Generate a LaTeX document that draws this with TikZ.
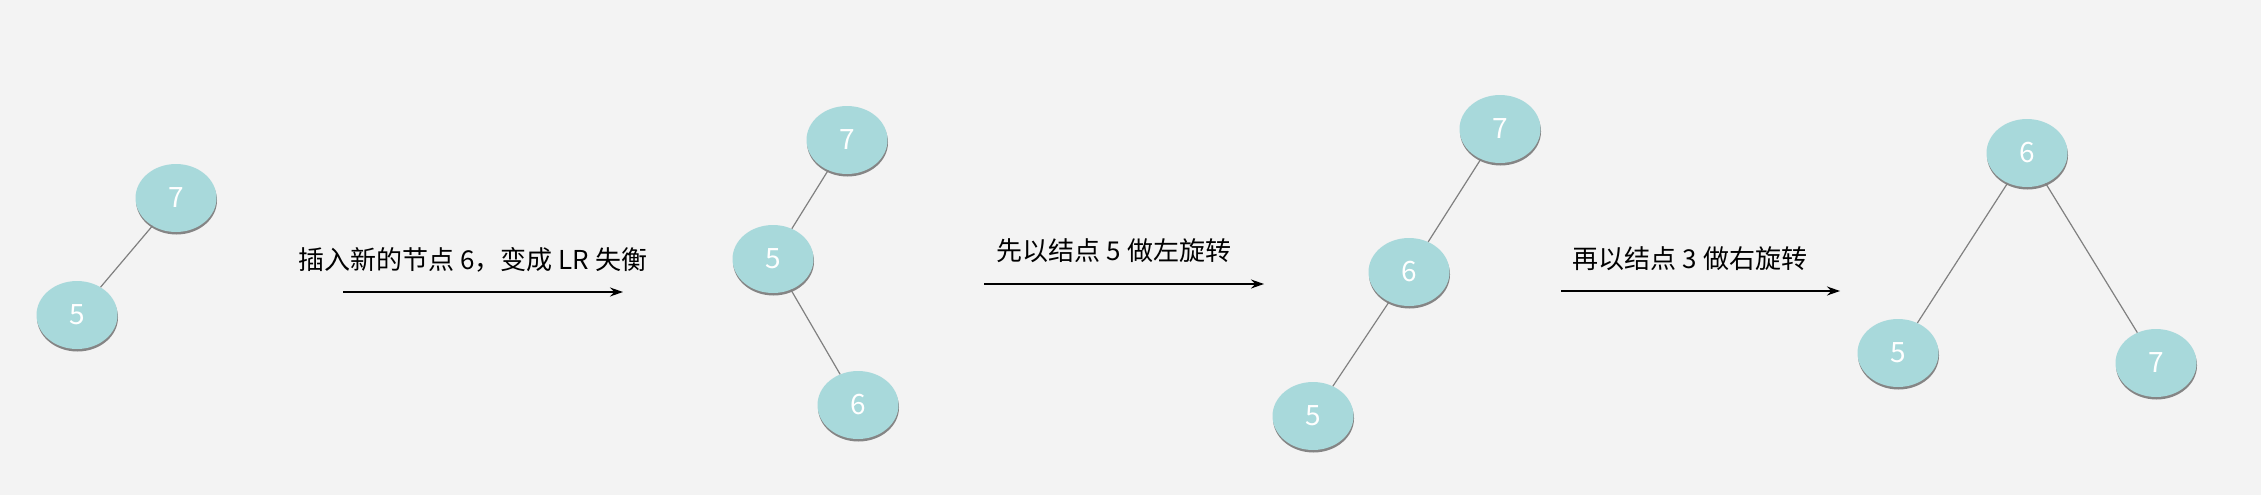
\documentclass[tikz,border=0pt]{standalone}
\usepackage{fontspec}
\setmainfont{Noto Sans CJK SC}
\usepackage{tikz}
\usetikzlibrary{shapes.geometric,shadows,arrows.meta}
\definecolor{bgcol}{HTML}{F3F3F3}
\definecolor{nodecol}{HTML}{A8D9DB}
\tikzset{
	avl/.style={ellipse, fill=nodecol, minimum width=81pt, minimum height=68pt, inner sep=0pt,
		text=white, font=\fontsize{28}{32}\selectfont,
		drop shadow={shadow xshift=0.5pt, shadow yshift=-2.5pt, fill=black, opacity=0.45}},
	link/.style={draw=black!50, line width=1.2pt},
	caption/.style={font=\fontsize{26}{30}\selectfont, text=black},
	turn/.style={line width=1.4pt, -{Stealth[length=13pt,width=9pt]}}
}
\begin{document}
\begin{tikzpicture}[x=1pt, y=-1pt]
			\fill[bgcol] (0,0) rectangle (2261,495);
			% Nodes
			\node[avl] (a7) at (176,198) {7};
			\node[avl] (a5) at (77,315) {5};
			\node[avl] (b7) at (847,140) {7};
			\node[avl] (b5) at (773,259) {5};
			\node[avl] (b6) at (858,405) {6};
			\node[avl] (c7) at (1500,129) {7};
			\node[avl] (c6) at (1409,272) {6};
			\node[avl] (c5) at (1313,416) {5};
			\node[avl] (d6) at (2027,153) {6};
			\node[avl] (d5) at (1898,353) {5};
			\node[avl] (d7) at (2156,363) {7};
			% Edges
			\draw[link] (a7) -- (a5);
			\draw[link] (b7) -- (b5);
			\draw[link] (b5) -- (b6);
			\draw[link] (c7) -- (c6);
			\draw[link] (c6) -- (c5);
			\draw[link] (d6) -- (d5);
			\draw[link] (d6) -- (d7);
			% Steps
			\node[caption] (t1) at (473,260) {插入新的节点 6，变成 LR 失衡};
			\node[caption] (t2) at (1114,251) {先以结点 5 做左旋转};
			\node[caption] (t3) at (1690,259) {再以结点 3 做右旋转};
			\coordinate (s1) at (343,292); \coordinate (e1) at (623,292);
			\coordinate (s2) at (984,284); \coordinate (e2) at (1264,284);
			\coordinate (s3) at (1561,291); \coordinate (e3) at (1840,291);
			\draw[turn] (s1) -- (e1);
			\draw[turn] (s2) -- (e2);
			\draw[turn] (s3) -- (e3);
\end{tikzpicture}
\end{document}
